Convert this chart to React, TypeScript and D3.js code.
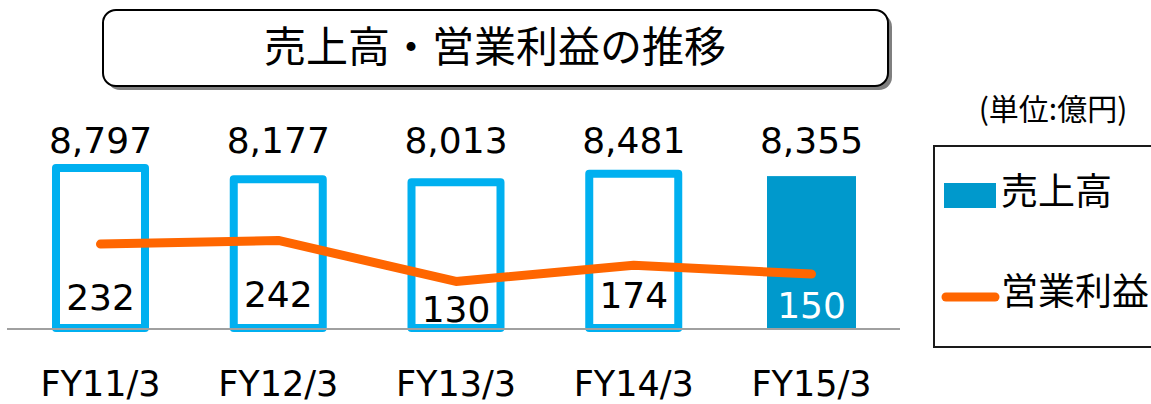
import * as React from "react"
import * as d3 from "d3"

const categories = ["FY11/3", "FY12/3", "FY13/3", "FY14/3", "FY15/3"]
const sales = [8797, 8177, 8013, 8481, 8355]
const profit = [232, 242, 130, 174, 150]
// vertical offset of each profit label below its point (layout only)
const profitLabelDy = [66, 67, 41, 43, 44]

const W = 1151
const H = 404
const CJK = "'Noto Sans CJK JP', 'Noto Sans', sans-serif"
const NUM = "'DejaVu Sans', Verdana, sans-serif"

export default function App() {
  const svgRef = React.useRef<SVGSVGElement>(null)

  React.useEffect(() => {
    if (!svgRef.current) return
    const svg = d3.select(svgRef.current)
    svg.selectAll("*").remove()

    const baseY = 329
    const x = d3.scalePoint<string>().domain(categories).range([100.5, 811.5])
    const y = d3.scaleLinear().domain([0, 10000]).range([baseY, 146])
    const y2 = d3.scaleLinear().domain([0, 500]).range([baseY, 146])
    const barW = 89
    const last = categories.length - 1

    // title box with shadow
    svg.append("rect")
      .attr("x", 107).attr("y", 14).attr("width", 785).attr("height", 76)
      .attr("rx", 13).attr("fill", "#7f7f7f")
    svg.append("rect")
      .attr("x", 103).attr("y", 10).attr("width", 785).attr("height", 76)
      .attr("rx", 13).attr("fill", "#fff").attr("stroke", "#000").attr("stroke-width", 2)
    svg.append("text")
      .attr("x", 495).attr("y", 62)
      .attr("text-anchor", "middle")
      .style("font-family", CJK).style("font-size", "42px")
      .text("売上高・営業利益の推移")

    // bars
    svg.selectAll(".bar")
      .data(sales)
      .enter()
      .append("rect")
      .attr("class", "bar")
      .attr("x", (_, i) => (x(categories[i]) || 0) - barW / 2)
      .attr("y", (d) => y(d))
      .attr("width", barW)
      .attr("height", (d, i) => y(0) - y(d) - (i === last ? 0 : 1))
      .attr("fill", (_, i) => (i === last ? "#0099CC" : "#fff"))
      .attr("stroke", (_, i) => (i === last ? "none" : "#00B0F0"))
      .attr("stroke-width", 8)
      .attr("stroke-linejoin", "round")

    // baseline
    svg.append("line")
      .attr("x1", 7).attr("x2", 900).attr("y1", baseY).attr("y2", baseY)
      .attr("stroke", "#a0a0a0").attr("stroke-width", 2)

    // sales labels
    svg.selectAll(".sales-label")
      .data(sales)
      .enter()
      .append("text")
      .attr("class", "sales-label")
      .attr("x", (_, i) => x(categories[i]) || 0)
      .attr("y", 153)
      .attr("text-anchor", "middle")
      .style("font-family", NUM).style("font-size", "36px")
      .text((d) => d3.format(",")(d))

    // profit line
    const line = d3.line<number>()
      .x((_, i) => x(categories[i]) || 0)
      .y((d) => y2(d))
    svg.append("path")
      .datum(profit)
      .attr("fill", "none")
      .attr("stroke", "#FF6600")
      .attr("stroke-width", 9)
      .attr("stroke-linecap", "round")
      .attr("stroke-linejoin", "round")
      .attr("d", line)

    // profit labels
    svg.selectAll(".profit-label")
      .data(profit)
      .enter()
      .append("text")
      .attr("class", "profit-label")
      .attr("x", (_, i) => x(categories[i]) || 0)
      .attr("y", (d, i) => y2(d) + profitLabelDy[i])
      .attr("text-anchor", "middle")
      .attr("fill", (_, i) => (i === last ? "#fff" : "#000"))
      .style("font-family", NUM).style("font-size", "36px")
      .text((d) => d)

    // category labels
    svg.selectAll(".cat")
      .data(categories)
      .enter()
      .append("text")
      .attr("class", "cat")
      .attr("x", (d) => x(d) || 0)
      .attr("y", 396)
      .attr("text-anchor", "middle")
      .style("font-family", NUM).style("font-size", "35px")
      .text((d) => d)

    // unit
    svg.append("text")
      .attr("x", 1053).attr("y", 120)
      .attr("text-anchor", "middle")
      .style("font-family", CJK).style("font-size", "30px")
      .text("(単位:億円)")

    // legend
    svg.append("rect")
      .attr("x", 934).attr("y", 146).attr("width", 240).attr("height", 201)
      .attr("fill", "#fff").attr("stroke", "#1a1a1a").attr("stroke-width", 2)
    svg.append("rect")
      .attr("x", 944).attr("y", 183).attr("width", 52).attr("height", 25)
      .attr("fill", "#0099CC")
    svg.append("text")
      .attr("x", 1001).attr("y", 205)
      .style("font-family", CJK).style("font-size", "37px")
      .text("売上高")
    svg.append("line")
      .attr("x1", 946).attr("x2", 995).attr("y1", 297).attr("y2", 297)
      .attr("stroke", "#FF6600").attr("stroke-width", 9).attr("stroke-linecap", "round")
    svg.append("text")
      .attr("x", 1001).attr("y", 305)
      .style("font-family", CJK).style("font-size", "37px")
      .text("営業利益")
  }, [])

  return (
    <svg
      ref={svgRef}
      width={W}
      height={H}
      viewBox={`0 0 ${W} ${H}`}
      style={{ position: "absolute", left: 0, top: 0, background: "#fff" }}
    />
  )
}
